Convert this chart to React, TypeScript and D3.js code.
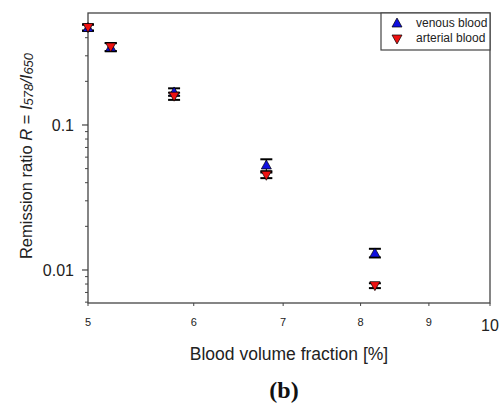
import React from "react";
import * as d3 from "d3";

// blood volume fraction [%]
const fractions = [5.0, 5.2, 5.8, 6.8, 8.2];
const venous = [0.47, 0.345, 0.169, 0.053, 0.0131];
const venousErr = [0.023, 0.022, 0.01, 0.005, 0.0009];
const arterial = [0.47, 0.345, 0.158, 0.045, 0.0078];
const arterialErr = [0.023, 0.022, 0.009, 0.002, 0.0003];
const xTicks = [5, 6, 7, 8, 9, 10];
const yTicks = [0.01, 0.1];
const yMinor = [0.006, 0.007, 0.008, 0.009, 0.02, 0.03, 0.04, 0.05, 0.06, 0.07, 0.08, 0.09, 0.2, 0.3, 0.4, 0.5];

const W = 499, H = 409;
const margin = { top: 13, right: 9, bottom: 106, left: 88 };

const x = d3.scaleLog().domain([5, 10]).range([margin.left, W - margin.right]);
const y = d3.scaleLog().domain([0.00592, 0.592]).range([H - margin.bottom, margin.top]);

const axisColor = "#444";

function Tri({ cx, cy, up, fill }: { cx: number; cy: number; up: boolean; fill: string }) {
  const s = 5;
  const p = up
    ? `M${cx},${cy - s} L${cx + s},${cy + s * 0.8} L${cx - s},${cy + s * 0.8} Z`
    : `M${cx},${cy + s} L${cx + s},${cy - s * 0.8} L${cx - s},${cy - s * 0.8} Z`;
  return <path d={p} fill={fill} stroke="#000" strokeWidth={0.7} />;
}

function ErrBar({ cx, v, e }: { cx: number; v: number; e: number }) {
  const y1 = y(v + e), y2 = y(v - e);
  return (
    <g stroke="#000" strokeWidth={2}>
      <line x1={cx} x2={cx} y1={y1} y2={y2} strokeWidth={1} />
      <line x1={cx - 6} x2={cx + 6} y1={y1} y2={y1} />
      <line x1={cx - 6} x2={cx + 6} y1={y2} y2={y2} />
    </g>
  );
}

export default function App() {
  const x0 = margin.left, x1 = W - margin.right;
  const y0 = margin.top, y1 = H - margin.bottom;
  return (
    <svg width={W} height={H} style={{ position: "absolute", left: 0, top: 0, background: "#fff" }}
      fontFamily="Arial, 'Liberation Sans', sans-serif">
      {/* frame */}
      <rect x={x0} y={y0} width={x1 - x0} height={y1 - y0} fill="none" stroke={axisColor} strokeWidth={1.3} />

      {/* y ticks */}
      {yMinor.map(t => (
        <line key={t} x1={x0 - 3} x2={x0} y1={y(t)} y2={y(t)} stroke={axisColor} strokeWidth={1} />
      ))}
      {yTicks.map(t => (
        <g key={t}>
          <line x1={x0 - 6} x2={x0} y1={y(t)} y2={y(t)} stroke={axisColor} strokeWidth={1.2} />
          <text x={x0 - 14} y={y(t)} dy="0.35em" textAnchor="end" fontSize={16} fill="#222">{String(t)}</text>
        </g>
      ))}

      {/* x ticks */}
      {xTicks.map(t => (
        <g key={t}>
          <line x1={x(t)} x2={x(t)} y1={y1} y2={y1 + 3} stroke={axisColor} strokeWidth={1} />
          <text x={x(t)} y={t === 10 ? y1 + 28 : y1 + 23} textAnchor="middle"
            fontSize={t === 10 ? 16 : 11} fill="#222">{String(t)}</text>
        </g>
      ))}

      {/* axis titles */}
      <text x={289} y={360} textAnchor="middle" fontSize={17.5} fill="#222">Blood volume fraction [%]</text>
      <text transform="translate(32,156) rotate(-90)" textAnchor="middle" fontSize={16.5} fill="#222">
        Remission ratio <tspan fontStyle="italic">R</tspan> = <tspan fontStyle="italic">I</tspan>
        <tspan fontSize={13} fontStyle="italic" dy={1}>578</tspan>
        <tspan fontStyle="italic" dy={-1}>/I</tspan>
        <tspan fontSize={13} fontStyle="italic" dy={1}>650</tspan>
      </text>
      <text x={284} y={398} textAnchor="middle" fontSize={24} fontWeight="bold"
        fontFamily="'Liberation Serif', 'DejaVu Serif', serif" fill="#111">(b)</text>

      {/* error bars */}
      {fractions.map((f, i) => (
        <g key={"e" + i}>
          <ErrBar cx={x(f)} v={venous[i]} e={venousErr[i]} />
          <ErrBar cx={x(f)} v={arterial[i]} e={arterialErr[i]} />
        </g>
      ))}
      {/* markers */}
      {fractions.map((f, i) => (
        <g key={"m" + i}>
          <Tri cx={x(f)} cy={y(venous[i])} up fill="#1010e0" />
          <Tri cx={x(f)} cy={y(arterial[i])} up={false} fill="#ee1111" />
        </g>
      ))}

      {/* legend */}
      <rect x={381} y={y0} width={x1 - 381} height={37} fill="#fff" stroke={axisColor} strokeWidth={1.2} />
      <Tri cx={397} cy={23} up fill="#1010e0" />
      <text x={416} y={23} dy="0.35em" fontSize={12} fill="#222">venous blood</text>
      <Tri cx={397} cy={39} up={false} fill="#ee1111" />
      <text x={416} y={38} dy="0.35em" fontSize={12} fill="#222">arterial blood</text>
    </svg>
  );
}
